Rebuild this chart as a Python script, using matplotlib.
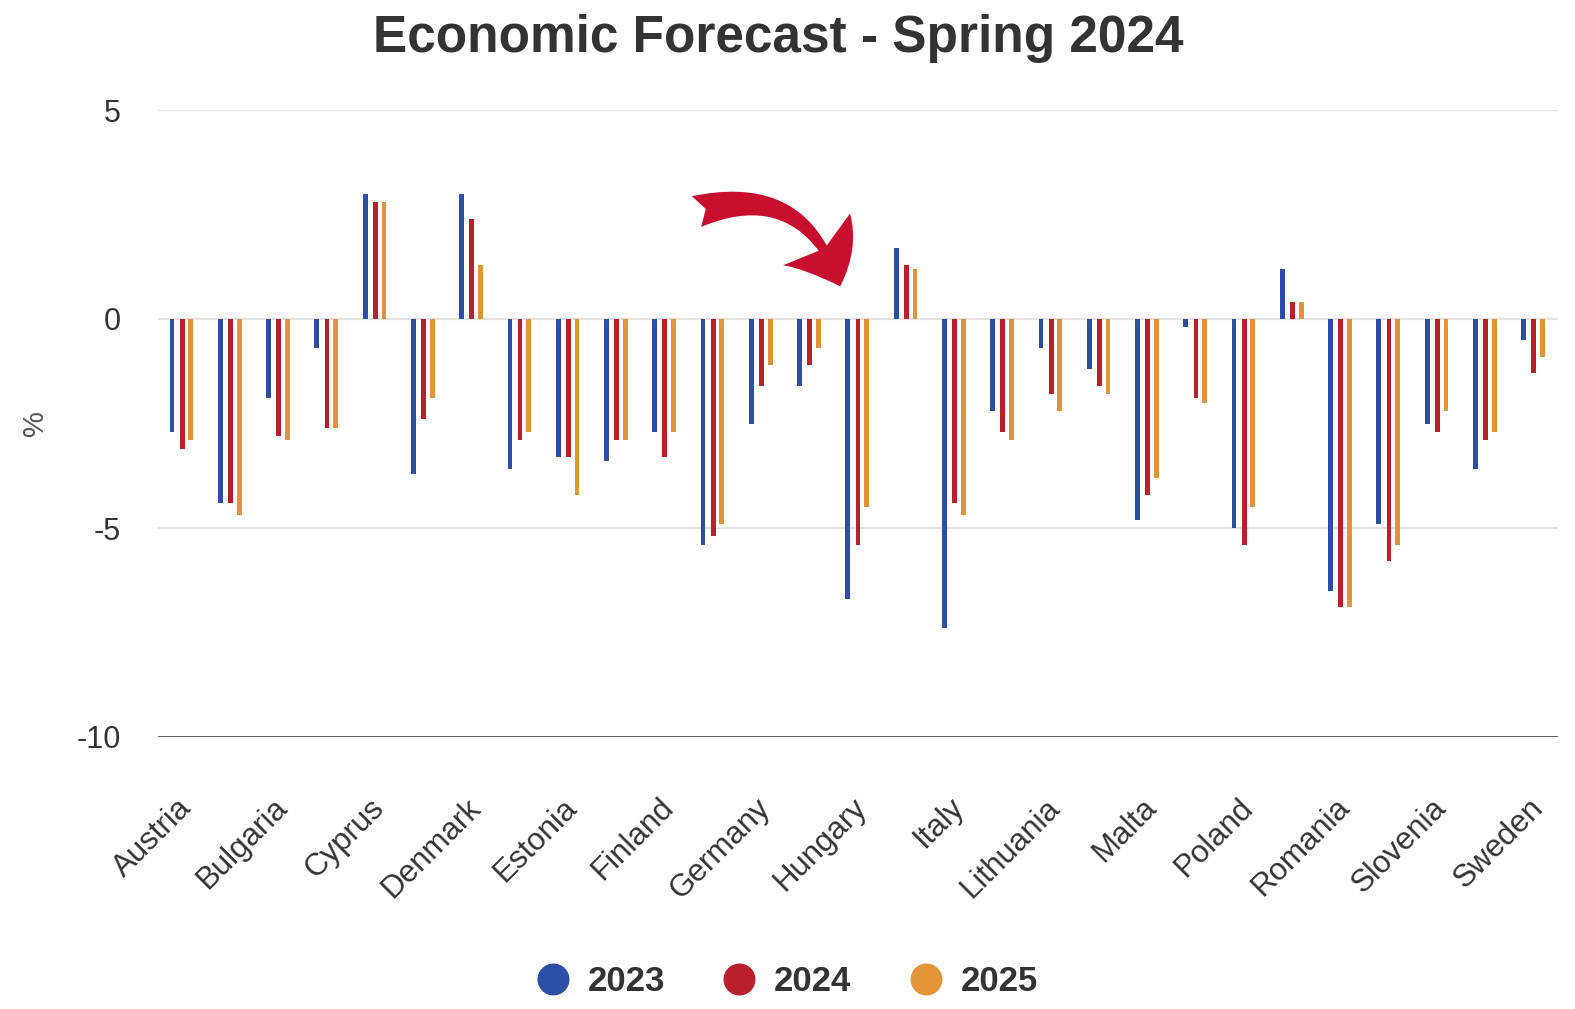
import numpy as np
import matplotlib
matplotlib.use("Agg")
import matplotlib.pyplot as plt
import matplotlib.transforms as mtransforms

plt.rcParams["font.family"] = ["Liberation Sans", "DejaVu Sans"]

countries = ["Austria", "Belgium", "Bulgaria", "Croatia", "Cyprus", "Czechia", "Denmark",
             "EA", "Estonia", "EU", "Finland", "France", "Germany", "Greece", "Hungary",
             "Ireland", "Italy", "Latvia", "Lithuania", "Luxembourg", "Malta", "Netherlands",
             "Poland", "Portugal", "Romania", "Slovakia", "Slovenia", "Spain", "Sweden"]
bal_2023 = [-2.7, -4.4, -1.9, -0.7, 3.0, -3.7, 3.0, -3.6, -3.3, -3.4, -2.7, -5.4, -2.5, -1.6, -6.7,
            1.7, -7.4, -2.2, -0.7, -1.2, -4.8, -0.2, -5.0, 1.2, -6.5, -4.9, -2.5, -3.6, -0.5]
bal_2024 = [-3.1, -4.4, -2.8, -2.6, 2.8, -2.4, 2.4, -2.9, -3.3, -2.9, -3.3, -5.2, -1.6, -1.1, -5.4,
            1.3, -4.4, -2.7, -1.8, -1.6, -4.2, -1.9, -5.4, 0.4, -6.9, -5.8, -2.7, -2.9, -1.3]
bal_2025 = [-2.9, -4.7, -2.9, -2.6, 2.8, -1.9, 1.3, -2.7, -4.2, -2.9, -2.7, -4.9, -1.1, -0.7, -4.5,
            1.2, -4.7, -2.9, -2.2, -1.8, -3.8, -2.0, -4.5, 0.4, -6.9, -5.4, -2.2, -2.7, -0.9]
years = ["2023", "2024", "2025"]
colors = ["#2b4fa6", "#bb1f2a", "#e39436"]

fig = plt.figure(figsize=(15.75, 10.09), dpi=100)
ax = fig.add_axes([158 / 1575, 1 - 737 / 1009, 1400 / 1575, 627 / 1009])

x = np.arange(len(countries))
offsets = [-0.21, 0.0, 0.18]
for vals, off, c, lab in zip([bal_2023, bal_2024, bal_2025], offsets, colors, years):
    ax.bar(x + off, vals, width=0.1, color=c, label=lab, zorder=3)

ax.set_xlim(-0.5, len(countries) - 0.5)
ax.set_ylim(-10, 5)
ax.set_yticks([-10, -5, 0, 5])
ax.set_yticklabels(["-10", "-5", "0", "5"])
for yv in [-5, 0, 5]:
    ax.axhline(yv, color="#e3e3e3", lw=1.6, zorder=1)
ax.axhline(-10, color="#333333", lw=1.8, zorder=4)
for s in ax.spines.values():
    s.set_visible(False)
ax.tick_params(axis="y", length=0, pad=27, labelsize=22, labelcolor="#333333")

# only every second country gets a label
ax.set_xticks(x[::2])
ax.set_xticklabels(countries[::2], rotation=45, ha="right", va="top", rotation_mode="anchor")
ax.tick_params(axis="x", length=0, pad=40, labelsize=22.5, labelcolor="#333333")
shift = mtransforms.ScaledTranslation(-6 / 100, 0, fig.dpi_scale_trans)
for lbl in ax.get_xticklabels():
    lbl.set_transform(lbl.get_transform() + shift)

ax.set_ylabel("%", fontsize=21, color="#555555")
ax.yaxis.set_label_coords(-0.078, 0.5)

fig.text(0.494, 0.962, "Economic Forecast - Spring 2024", ha="center", va="center",
         fontsize=37, fontweight="bold", color="#333333")

# curved call-out arrow pointing at Hungary
ax.annotate("", xy=(13.65, 0.72), xytext=(10.6, 2.55),
            arrowprops=dict(arrowstyle="fancy,head_length=0.9,head_width=1.45,tail_width=0.55",
                            connectionstyle="arc3,rad=-0.5", color="#c8102e", lw=0,
                            mutation_scale=42))

handles = [plt.Line2D([], [], marker="o", linestyle="", markersize=22, color=c) for c in colors]
leg = fig.legend(handles, years, loc="center", bbox_to_anchor=(0.494, 0.027), ncol=3,
                 frameon=False, handletextpad=0.0, columnspacing=1.15,
                 prop={"size": 25, "weight": "bold"})
for t in leg.get_texts():
    t.set_color("#333333")

fig.savefig("out.png", dpi=100)
